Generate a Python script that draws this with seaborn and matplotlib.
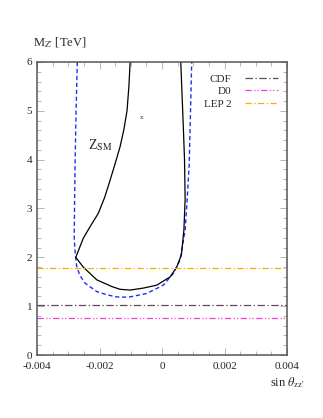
import matplotlib
matplotlib.use("Agg")
import matplotlib.pyplot as plt
import seaborn as sns
from matplotlib.ticker import MultipleLocator

# Z_SM contour (solid black), traced from top-left, down, round the bottom, up the right side
sm_x = [-0.00102, -0.00106, -0.00112, -0.00122, -0.00134, -0.00150, -0.00169, -0.00184,
        -0.00204, -0.00230, -0.00252, -0.00276, -0.00252, -0.00209, -0.00160,
        -0.00134, -0.00102, -0.00060, -0.00017, 0.00026, 0.00047, 0.00062,
        0.00070, 0.00074, 0.00072, 0.00068, 0.00060]
sm_y = [6.0, 5.5, 5.0, 4.62, 4.27, 3.92, 3.52, 3.22,
        2.90, 2.63, 2.39, 2.0, 1.80, 1.54, 1.40,
        1.345, 1.33, 1.37, 1.43, 1.60, 1.80, 2.05,
        2.56, 3.2, 4.0, 4.7, 6.0]

# dashed blue contour
bnd_x = [-0.00271, -0.00275, -0.00278, -0.00280, -0.00281, -0.00278, -0.00273,
         -0.00262, -0.00246, -0.00209, -0.00175, -0.00145, -0.00120, -0.00102,
         -0.00049, 0.00004, 0.00036, 0.00058, 0.00074, 0.00081, 0.00087,
         0.00090, 0.00095]
bnd_y = [6.0, 5.0, 4.0, 3.0, 2.4, 2.1, 1.81,
         1.62, 1.47, 1.30, 1.23, 1.19, 1.185, 1.19,
         1.26, 1.43, 1.67, 1.95, 2.56, 3.24, 3.9,
         4.68, 6.0]

limit_names = ["CDF", "D0", "LEP 2"]
limit_values = [1.024, 0.765, 1.79]
limit_colors = ["#5e4a5c", "#e645e6", "#ffaa00"]
limit_dashes = [(6, 2, 1, 2), (5, 2, 1, 1.5, 1, 2), (5, 2, 1, 2)]

sns.set_style("ticks")
plt.rcParams["font.family"] = ["Liberation Serif", "DejaVu Serif"]
plt.rcParams["mathtext.fontset"] = "stix"

fig = plt.figure(figsize=(3.23, 4.18), dpi=100)
ax = fig.add_axes([0.1146, 0.1507, 0.774, 0.701])

sns.lineplot(x=bnd_x, y=bnd_y, sort=False, estimator=None, ax=ax,
             color="#1f2fee", lw=1.0, linestyle=(0, (3, 2)))
sns.lineplot(x=sm_x, y=sm_y, sort=False, estimator=None, ax=ax,
             color="black", lw=0.9)

for name, val, col, ds in zip(limit_names, limit_values, limit_colors, limit_dashes):
    ax.axhline(val, color=col, lw=0.9, linestyle=(0, ds), label=name)

ax.text(-0.00065, 4.87, "x", fontsize=5, ha="center", va="center")
ax.text(-0.00238, 4.3, r"Z$_{\rm SM}$", fontsize=10, ha="left", va="center")

ax.set_xlim(-0.004, 0.004)
ax.set_ylim(0, 6)
ax.xaxis.set_minor_locator(MultipleLocator(0.0005))
ax.yaxis.set_major_locator(MultipleLocator(1))
ax.yaxis.set_minor_locator(MultipleLocator(0.2))
ax.set_xticks([-0.004, -0.002, 0, 0.002, 0.004])
ax.set_xticklabels(["-0.004", "-0.002", "0", "0.002", "0.004"])
ax.tick_params(which="both", direction="in", top=True, right=True,
               labelsize=8, color="#aaaaaa", width=0.6)
ax.tick_params(which="major", length=5)
ax.tick_params(axis="x", which="major", pad=5)
ax.tick_params(which="minor", length=3)
for sp in ax.spines.values():
    sp.set_color("#555555")
    sp.set_linewidth(1.1)
ax.set_xlabel("")
ax.set_ylabel("")

fig.text(0.102, 0.897, r"M$_{\mathrm{Z}\text{'}}$ [TeV]", fontsize=9, ha="left", va="center")
fig.text(0.944, 0.084, r"sin $\theta_{\mathrm{zz}\text{'}}$", fontsize=9, ha="right", va="center")

leg = ax.legend(loc="upper right", frameon=False, fontsize=8, markerfirst=False,
                handlelength=3.0, handletextpad=1.2, labelspacing=0.25,
                borderaxespad=0.4, bbox_to_anchor=(1.0, 0.99))

fig.savefig("out.png", dpi=100)
